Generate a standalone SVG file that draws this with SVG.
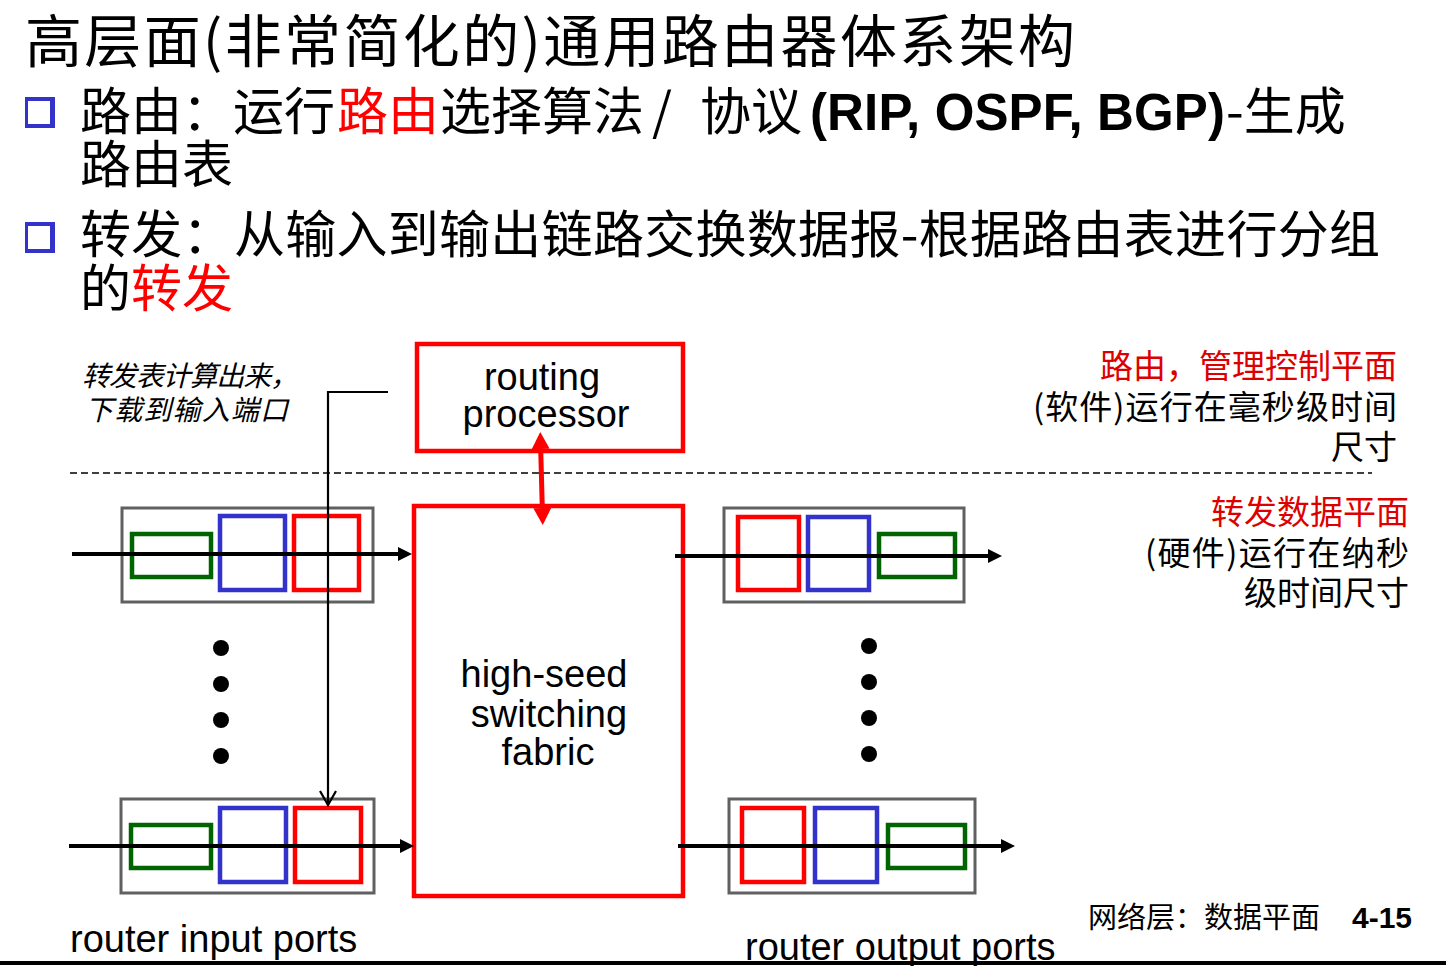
<svg xmlns="http://www.w3.org/2000/svg" width="1446" height="966" viewBox="0 0 1446 966">
<style>
.cjk{font-family:"Noto Sans CJK SC","Liberation Sans",sans-serif;fill:#000}
.en{font-family:"Liberation Sans",Arial,sans-serif;fill:#000}
.red{fill:#ff0000}
.gray{fill:none;stroke:#606060;stroke-width:3}
.qg{fill:none;stroke:#006400;stroke-width:4.5}
.qb{fill:none;stroke:#3333cc;stroke-width:4.5}
.qr{fill:none;stroke:#ff0000;stroke-width:4.5}
.rbox{fill:none;stroke:#ff0000;stroke-width:4.5}
.flow{stroke:#000;stroke-width:4;fill:none;marker-end:url(#ah)}
.dot{fill:#000}
</style>
<defs>
<marker id="ah" markerUnits="userSpaceOnUse" viewBox="0 0 14 14" refX="2" refY="7" markerWidth="14" markerHeight="14" orient="auto">
<path d="M0,0 L14,7 L0,14 z" fill="#000"/>
</marker>
<marker id="rah" markerUnits="userSpaceOnUse" viewBox="0 0 17 18" refX="0" refY="9" markerWidth="17" markerHeight="18" orient="auto-start-reverse">
<path d="M0,0 L17,9 L0,18 z" fill="#ff0000"/>
</marker>
<g id="bulletShape">
<rect x="0" y="0" width="30" height="31" fill="#3333cc"/>
<rect x="3" y="4" width="22" height="23" fill="#fff"/>
</g>
</defs>

<g id="title">
<text class="cjk" x="25" y="62" font-size="57" textLength="1050">高层面(非常简化的)通用路由器体系架构</text>
</g>

<g id="bullet1">
<use href="#bulletShape" x="25" y="97"/>
<text class="cjk" x="80" y="130" font-size="51">路由：运行<tspan x="337" class="red">路由</tspan><tspan x="440">选择算法</tspan><tspan x="652">/</tspan><tspan x="700">协议</tspan><tspan x="810" font-family="Liberation Sans, Arial, sans-serif" font-weight="bold" textLength="415">(RIP, OSPF, BGP)</tspan><tspan x="1226">-生成</tspan></text>
<text class="cjk" x="80" y="183" font-size="51">路由表</text>
</g>

<g id="bullet2">
<use href="#bulletShape" x="25" y="222"/>
<text class="cjk" x="80" y="253" font-size="51" textLength="1300">转发：从输入到输出链路交换数据报-根据路由表进行分组</text>
<text class="cjk" x="80" y="307" font-size="51">的<tspan class="red">转发</tspan></text>
</g>

<g id="note-download">
<text class="cjk" x="82" y="386" font-size="28" font-style="italic" fill="#222" textLength="216">转发表计算出来，</text>
<text class="cjk" x="85" y="420" font-size="28" font-style="italic" fill="#222" textLength="203">下载到输入端口</text>
</g>

<g id="plane-divider">
<line x1="70" y1="473" x2="1372" y2="473" stroke="#000" stroke-width="1.5" stroke-dasharray="7,4"/>
</g>

<g id="routing-processor">
<rect class="rbox" x="417" y="344" width="266" height="107"/>
<text class="en" x="542" y="390" font-size="38" text-anchor="middle">routing</text>
<text class="en" x="546" y="427" font-size="38" text-anchor="middle">processor</text>
</g>

<g id="switching-fabric">
<rect class="rbox" x="414" y="506" width="269" height="390"/>
<text class="en" x="544" y="687" font-size="38" text-anchor="middle">high-seed</text>
<text class="en" x="549" y="727" font-size="38" text-anchor="middle">switching</text>
<text class="en" x="548" y="765" font-size="38" text-anchor="middle">fabric</text>
</g>

<g id="input-port-1">
<rect class="gray" x="122" y="508" width="251" height="94"/>
<rect class="qg" x="132" y="534" width="79" height="43"/>
<rect class="qb" x="220" y="516" width="65" height="74"/>
<rect class="qr" x="294" y="516" width="65" height="74"/>
</g>

<g id="input-port-2">
<rect class="gray" x="121" y="799" width="253" height="94"/>
<rect class="qg" x="131" y="825" width="80" height="43"/>
<rect class="qb" x="220" y="808" width="66" height="74"/>
<rect class="qr" x="295" y="808" width="66" height="74"/>
</g>

<g id="output-port-1">
<rect class="gray" x="724" y="508" width="240" height="94"/>
<rect class="qr" x="738" y="517" width="61" height="73"/>
<rect class="qb" x="808" y="517" width="61" height="73"/>
<rect class="qg" x="879" y="534" width="76" height="43"/>
</g>

<g id="output-port-2">
<rect class="gray" x="729" y="799" width="246" height="94"/>
<rect class="qr" x="742" y="808" width="62" height="74"/>
<rect class="qb" x="815" y="808" width="62" height="74"/>
<rect class="qg" x="888" y="825" width="77" height="43"/>
</g>

<g id="dots-input">
<circle class="dot" cx="221" cy="648" r="8"/>
<circle class="dot" cx="221" cy="684" r="8"/>
<circle class="dot" cx="221" cy="720" r="8"/>
<circle class="dot" cx="221" cy="756" r="8"/>
</g>
<g id="dots-output">
<circle class="dot" cx="869" cy="646" r="8"/>
<circle class="dot" cx="869" cy="682" r="8"/>
<circle class="dot" cx="869" cy="718" r="8"/>
<circle class="dot" cx="869" cy="754" r="8"/>
</g>

<g id="connectors">
<line class="flow" x1="72" y1="554" x2="400" y2="554"/>
<line class="flow" x1="69" y1="846" x2="402" y2="846"/>
<line class="flow" x1="675" y1="556" x2="990" y2="556"/>
<line class="flow" x1="678" y1="846" x2="1003" y2="846"/>
<path d="M388,392 H328 V805" fill="none" stroke="#000" stroke-width="2.2"/>
<path d="M320,791 L328,805 L336,791" fill="none" stroke="#000" stroke-width="2.2"/>
<line x1="540.7" y1="449" x2="542.3" y2="508" stroke="#ff0000" stroke-width="5" marker-start="url(#rah)" marker-end="url(#rah)"/>
</g>

<g id="control-plane-label">
<text class="cjk" x="1397" y="378" font-size="33" text-anchor="end" style="fill:#dd0000">路由，管理控制平面</text>
<text class="cjk" x="1397" y="419" font-size="33" text-anchor="end" textLength="364">(软件)运行在毫秒级时间</text>
<text class="cjk" x="1397" y="459" font-size="33" text-anchor="end">尺寸</text>
</g>

<g id="data-plane-label">
<text class="cjk" x="1409" y="524" font-size="33" text-anchor="end" style="fill:#dd0000">转发数据平面</text>
<text class="cjk" x="1409" y="565" font-size="33" text-anchor="end" textLength="264">(硬件)运行在纳秒</text>
<text class="cjk" x="1409" y="605" font-size="33" text-anchor="end">级时间尺寸</text>
</g>

<g id="port-labels">
<text class="en" x="70" y="952" font-size="38">router input ports</text>
<text class="en" x="745" y="960" font-size="38">router output ports</text>
</g>

<g id="footer">
<text class="cjk" x="1088" y="928" font-size="29">网络层：数据平面</text>
<text class="en" x="1352" y="928" font-size="30" font-weight="bold">4-15</text>
<line x1="0" y1="963" x2="1446" y2="963" stroke="#000" stroke-width="4"/>
</g>
</svg>
